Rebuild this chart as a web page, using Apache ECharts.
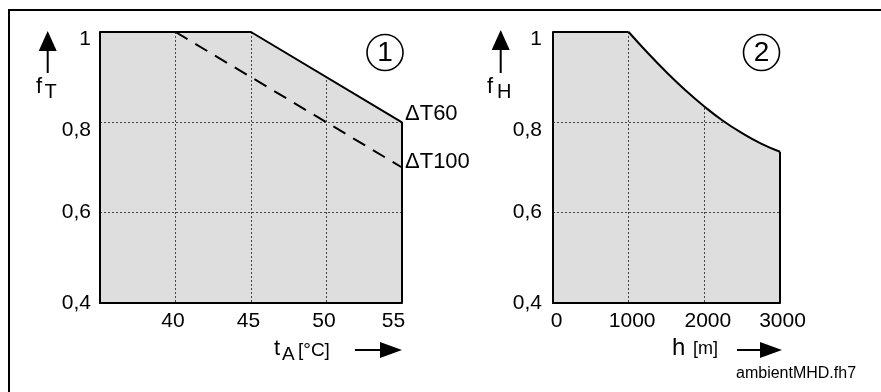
<!DOCTYPE html>
<html>
<head>
<meta charset="utf-8">
<script src="https://cdn.jsdelivr.net/npm/echarts@6/dist/echarts.min.js"></script>
<style>
  html, body { margin: 0; padding: 0; background: #fff; }
  #chart { width: 881px; height: 392px; }
</style>
</head>
<body>
<div id="chart"></div>
<script>
// chart 1: temperature derating
const tempTicks = [40, 45, 50, 55]
const dT60 = [[35, 1], [45, 1], [55, 0.8], [55, 0.4]]
const dT100 = [[40, 1], [55, 0.7]]
// chart 2: altitude derating
const hTicks = [0, 1000, 2000, 3000]
const hFlat = [[0, 1], [1000, 1]]
const hCurve = [[1000, 1], [1250, 0.954], [1500, 0.911], [1750, 0.871], [2000, 0.835], [2250, 0.803], [2500, 0.776], [2750, 0.753], [3000, 0.735]]
const hEdge = [[3000, 0.735], [3000, 0.4]]
// y ticks shared
const yTickValues = [0.4, 0.6, 0.8, 1]
const yTickLabels = ['0,4', '0,6', '0,8', '1']

const FONT = 'Liberation Sans, Arial, sans-serif'
const black = '#000'
const fill = '#dedede'

const chart = echarts.init(document.getElementById('chart'))

const yLabel = (v) => {
  const i = yTickValues.findIndex((t) => Math.abs(t - v) < 1e-6)
  if (i < 0) return ''
  // the upper labels sit below their gridline in the original
  return v >= 0.79 ? '{lo|' + yTickLabels[i] + '}' : '{c|' + yTickLabels[i] + '}'
}

const makeY = (gridIndex, margin) => ({
  type: 'value',
  gridIndex,
  z: 0,
  min: 0.4,
  max: 1,
  interval: 0.2,
  axisLine: { show: true, lineStyle: { color: black, width: 2 } },
  axisTick: { show: false },
  splitLine: { show: true, showMinLine: false, showMaxLine: false, lineStyle: { color: '#444', width: 1, type: [2, 2] } },
  axisLabel: {
    margin,
    color: black,
    fontFamily: FONT,
    fontSize: 21,
    formatter: yLabel,
    rich: {
      lo: { fontSize: 21, fontFamily: FONT, color: black, padding: [15, 0, 0, 0] },
      c: { fontSize: 21, fontFamily: FONT, color: black }
    }
  }
})

const makeX = (gridIndex, min, max, interval, ticks, showMin, pad, lastPad) => ({
  type: 'value',
  gridIndex,
  z: 0,
  min,
  max,
  interval,
  axisLine: { show: true, onZero: false, lineStyle: { color: black, width: 2 } },
  axisTick: { show: false },
  splitLine: { show: true, showMinLine: false, showMaxLine: false, lineStyle: { color: '#444', width: 1, type: [2, 2] } },
  axisLabel: {
    margin: 8,
    color: black,
    fontFamily: FONT,
    fontSize: 21,
    showMinLabel: showMin,
    formatter: (v) => {
      if (ticks.indexOf(v) < 0) return ''
      return (v === max ? '{e|' : '{n|') + v + '}'
    },
    rich: {
      n: { fontSize: 21, fontFamily: FONT, color: black, padding: pad },
      e: { fontSize: 21, fontFamily: FONT, color: black, padding: lastPad }
    }
  }
})

const txt = (x, y, text, size, extra) => ({
  type: 'text',
  left: x,
  top: y,
  z: 100,
  style: Object.assign({ text, fill: black, font: size + 'px ' + FONT, verticalAlign: 'top' }, extra || {})
})

const upArrow = (x, top, bottom) => [
  { type: 'line', z: 100, shape: { x1: x, y1: top + 18, x2: x, y2: bottom }, style: { stroke: black, lineWidth: 2 } },
  { type: 'polygon', z: 100, shape: { points: [[x - 9, top + 20], [x, top], [x + 9, top + 20]] }, style: { fill: black } }
]
const rightArrow = (left, right, y) => [
  { type: 'line', z: 100, shape: { x1: left, y1: y, x2: right - 18, y2: y }, style: { stroke: black, lineWidth: 2 } },
  { type: 'polygon', z: 100, shape: { points: [[right - 22, y - 8], [right, y], [right - 22, y + 8]] }, style: { fill: black } }
]
const circled = (cx, cy, n) => [
  { type: 'circle', z: 100, shape: { cx, cy, r: 18 }, style: { fill: 'none', stroke: black, lineWidth: 1.6 } },
  { type: 'text', z: 100, x: cx, y: cy + 1, style: { text: n, fill: black, font: '28px ' + FONT, align: 'center', verticalAlign: 'middle' } }
]

const option = {
  animation: false,
  backgroundColor: '#fff',
  grid: [
    { left: 100, top: 32, width: 302, height: 271, show: true, backgroundColor: fill, borderWidth: 0 },
    { left: 553, top: 32, width: 227, height: 271, show: true, backgroundColor: fill, borderWidth: 0 }
  ],
  xAxis: [
    makeX(0, 35, 55, 5, tempTicks, false, [0, 5, 0, 0], [0, 17, 0, 0]),
    makeX(1, 0, 3000, 1000, hTicks, true, [0, 0, 0, 7], [0, 0, 0, 5])
  ],
  yAxis: [makeY(0, 9), makeY(1, 11)],
  series: [
    {
      type: 'line',
      xAxisIndex: 0,
      yAxisIndex: 0,
      symbol: 'none',
      data: dT60,
      lineStyle: { color: black, width: 2 },
      areaStyle: { origin: 'end', color: '#fff', opacity: 1 },
      markPoint: {
        symbol: 'circle',
        symbolSize: 0,
        data: [{
          coord: dT60[2],
          label: { show: true, position: 'right', distance: 3, offset: [0, -8], formatter: 'ΔT60', color: black, fontFamily: FONT, fontSize: 22 }
        }]
      },
      z: 10
    },
    {
      type: 'line',
      xAxisIndex: 0,
      yAxisIndex: 0,
      symbol: 'none',
      data: dT100,
      lineStyle: { color: black, width: 2, type: [14, 9] },
      endLabel: { show: true, formatter: 'ΔT100', color: black, fontFamily: FONT, fontSize: 22, distance: 3, offset: [0, -6] },
      z: 11
    },
    {
      type: 'line',
      xAxisIndex: 1,
      yAxisIndex: 1,
      symbol: 'none',
      data: hFlat,
      lineStyle: { color: black, width: 2 },
      z: 10
    },
    {
      type: 'line',
      xAxisIndex: 1,
      yAxisIndex: 1,
      symbol: 'none',
      smooth: 0.5,
      data: hCurve,
      lineStyle: { color: black, width: 2 },
      areaStyle: { origin: 'end', color: '#fff', opacity: 1 },
      z: 10
    },
    {
      type: 'line',
      xAxisIndex: 1,
      yAxisIndex: 1,
      symbol: 'none',
      data: hEdge,
      lineStyle: { color: black, width: 2 },
      z: 10
    }
  ],
  graphic: [
    // outer frame (top and left only)
    { type: 'polyline', z: 100, shape: { points: [[9, 392], [9, 10], [881, 10]] }, style: { stroke: black, lineWidth: 2, fill: 'none' } },
    // left chart axis names
    ...upArrow(47.7, 31, 73),
    txt(36, 76, 'f', 22),
    txt(44.5, 82, 'T', 20),
    txt(274, 338, 't', 22),
    txt(282, 345, 'A', 19),
    txt(298, 341, '[°C]', 19),
    ...rightArrow(355, 402, 350),
    ...circled(385, 52.5, '1'),
    // right chart axis names
    ...upArrow(500.7, 30, 73),
    txt(487, 76, 'f', 22),
    txt(497, 82, 'H', 20),
    txt(672, 336, 'h', 24),
    txt(693, 340, '[m]', 18),
    ...rightArrow(737, 782, 350),
    ...circled(761.5, 52.5, '2'),
    txt(736, 366, 'ambientMHD.fh7', 16)
  ]
}

chart.setOption(option)
</script>
</body>
</html>
